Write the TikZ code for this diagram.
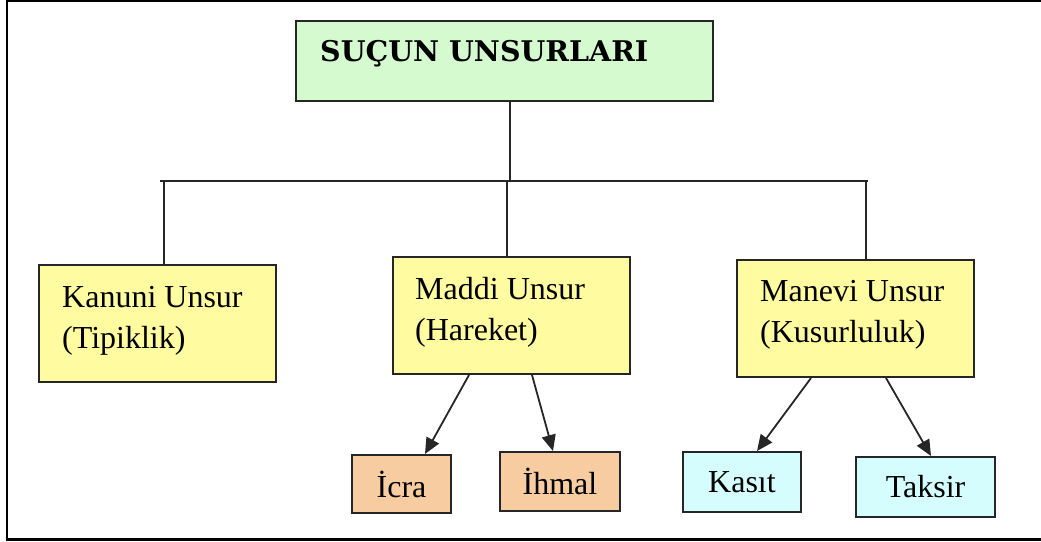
\documentclass[tikz,border=0pt]{standalone}
\usepackage{fontspec}
\setmainfont{Liberation Serif}
\newfontfamily\titlefont{DejaVu Serif}
\usetikzlibrary{arrows.meta}
\definecolor{boxgreen}{RGB}{214,250,208}
\definecolor{boxyellow}{RGB}{255,251,160}
\definecolor{boxpeach}{RGB}{246,204,160}
\definecolor{boxcyan}{RGB}{213,253,253}
\tikzset{
  frame/.style={line width=2.2pt, black},
  box/.style={draw=black!85, line width=2pt, rectangle, inner sep=0pt},
  lbl/.style={inner sep=0pt, align=left, font=\fontsize{32}{41}\selectfont},
  sub/.style={inner sep=0pt, font=\fontsize{32}{36}\selectfont},
  tline/.style={line width=1.8pt, black!85},
  arr/.style={line width=1.8pt, black!85, -{Triangle[length=16pt,width=14pt]}}
}
\begin{document}
\begin{tikzpicture}[x=1pt,y=-1pt]
\useasboundingbox (0,0) rectangle (1041,541);
% outer frame
\draw[frame] (1041,1) -- (7,1) -- (7,539.5) -- (1041,539.5);
% title
\node[box, fill=boxgreen, minimum width=417, minimum height=80] (title) at (504.5,61) {};
\node[inner sep=0pt, anchor=west, font=\titlefont\bfseries\fontsize{28.5}{30}\selectfont] (titletext) at (320,54) {SUÇUN UNSURLARI};
% level 1 boxes
\node[box, fill=boxyellow, minimum width=237, minimum height=117] (kanuni) at (157.5,323.5) {};
\node[lbl, anchor=west] (kanunitext) at (62,321) {Kanuni Unsur\\(Tipiklik)};
\node[box, fill=boxyellow, minimum width=237, minimum height=117] (maddi) at (511.5,315.5) {};
\node[lbl, anchor=west] (madditext) at (415,312) {Maddi Unsur\\(Hareket)};
\node[box, fill=boxyellow, minimum width=237, minimum height=117] (manevi) at (855.5,318.5) {};
\node[lbl, anchor=west] (manevitext) at (760,315) {Manevi Unsur\\(Kusurluluk)};
% level 2 boxes
\node[box, fill=boxpeach, minimum width=99, minimum height=58, sub] (icra) at (401.5,484) {İcra};
\node[box, fill=boxpeach, minimum width=120, minimum height=59, sub] (ihmal) at (560,481.5) {İhmal};
\node[box, fill=boxcyan, minimum width=118, minimum height=60, sub] (kasit) at (742,482) {Kasıt};
\node[box, fill=boxcyan, minimum width=139, minimum height=60, sub] (taksir) at (925.5,487) {Taksir};
% tree lines
\coordinate (barL) at (160,181);
\coordinate (barR) at (868,181);
\draw[tline] (barL) -- (barR);
\draw[tline] ([xshift=5.5]title.south) -- ([xshift=5.5]title.south |- barL);
\draw[tline] ([xshift=6.5]kanuni.north) -- ([xshift=6.5]kanuni.north |- barL);
\draw[tline] ([xshift=-4.5]maddi.north) -- ([xshift=-4.5]maddi.north |- barL);
\draw[tline] ([xshift=10.5]manevi.north) -- ([xshift=10.5]manevi.north |- barL);
% arrows
\draw[arr] ([xshift=-42.5]maddi.south) -- ([xshift=23.5]icra.north);
\draw[arr] ([xshift=20.5]maddi.south) -- ([xshift=-7]ihmal.north);
\draw[arr] ([xshift=-44.5]manevi.south) -- ([xshift=15]kasit.north);
\draw[arr] ([xshift=30.5]manevi.south) -- ([xshift=5.5]taksir.north);
\end{tikzpicture}
\end{document}
